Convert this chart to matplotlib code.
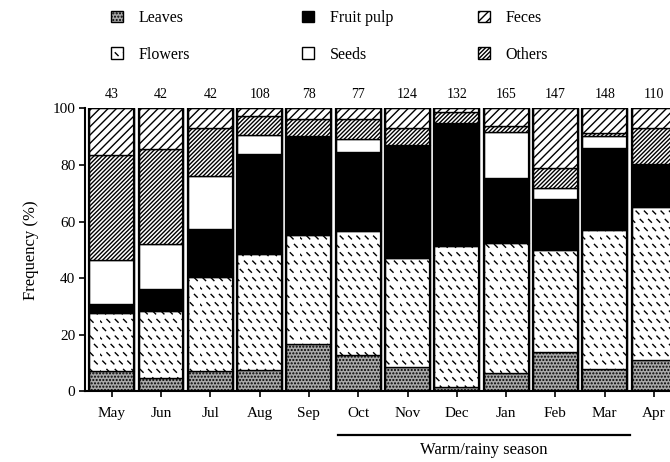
import matplotlib
matplotlib.use('Agg')
import matplotlib.pyplot as plt
import matplotlib.hatch as mhatch
from matplotlib.path import Path
from matplotlib.patches import Patch
import numpy as np

plt.rcParams['font.family'] = ['Liberation Serif', 'DejaVu Serif']
plt.rcParams['hatch.linewidth'] = 1.0

# datos (% por mes)
months = ['May', 'Jun', 'Jul', 'Aug', 'Sep', 'Oct', 'Nov', 'Dec', 'Jan', 'Feb', 'Mar', 'Apr']
n_samples = [43, 42, 42, 108, 78, 77, 124, 132, 165, 147, 148, 110]

leaves = [7.3, 4.9, 7.3, 7.6, 16.8, 12.9, 8.8, 1.5, 6.7, 14.1, 8.0, 11.2]
flowers = [20.3, 23.6, 33.1, 41.1, 38.3, 43.6, 38.5, 49.7, 45.7, 35.7, 49.1, 54.1]
fruit_pulp = [3.2, 7.6, 16.9, 35.2, 35.1, 27.9, 39.8, 43.5, 22.9, 18.2, 28.8, 14.9]
seeds = [15.6, 16.0, 18.9, 6.7, 0.0, 4.8, 0.0, 0.0, 16.5, 3.8, 4.3, 0.0]
others = [37.2, 33.7, 16.7, 6.8, 6.0, 7.0, 5.8, 4.1, 2.1, 7.0, 1.2, 12.7]
feces = [16.4, 14.2, 7.1, 2.6, 3.8, 3.8, 7.1, 1.2, 6.1, 21.2, 8.6, 7.1]


# trama de rayitas cortas para "Flowers" (reemplaza el patron '*')
class DashHatch(mhatch.HatchPatternBase):
    def __init__(self, hatch, density):
        self.n = int(hatch.count('*') * density)
        self.num_vertices = 2 * self.n * self.n

    def set_vertices_and_codes(self, vertices, codes):
        n = self.n
        d = 0.17 / n
        i, j = np.meshgrid(np.arange(n), np.arange(n))
        x = (((i + 0.5 + 0.5 * (j % 2)) / n) % 1.0).ravel()
        y = ((j + 0.5) / n).ravel()
        vertices[0::2, 0] = x - d
        vertices[0::2, 1] = y + d
        vertices[1::2, 0] = x + d
        vertices[1::2, 1] = y - d
        codes[0::2] = Path.MOVETO
        codes[1::2] = Path.LINETO


mhatch._hatch_types[mhatch._hatch_types.index(mhatch.Stars)] = DashHatch

# (nombre, valores, color de relleno, trama) de abajo hacia arriba
capas = [
    ('Leaves', leaves, '#a9a9a9', '.....'),
    ('Flowers', flowers, 'white', '**'),
    ('Fruit pulp', fruit_pulp, 'black', None),
    ('Seeds', seeds, 'white', None),
    ('Others', others, 'white', '////////'),
    ('Feces', feces, 'white', '////'),
]

fig = plt.figure(figsize=(6.7, 4.62), dpi=100)
ax = fig.add_axes([0.127, 0.1526, 0.886, 0.613])

x = np.arange(len(months))
ancho = 0.91
base = np.zeros(len(months))
estilos = {}
for nombre, vals, fc, h in capas:
    ax.bar(x, vals, ancho, bottom=base, color=fc, edgecolor='black',
           hatch=h, linewidth=1.0)
    base = base + np.array(vals)
    estilos[nombre] = (fc, h)

# contorno grueso de cada barra
ax.bar(x, base, ancho, fill=False, edgecolor='black', linewidth=1.6)

for xi, n in zip(x, n_samples):
    ax.text(xi, 105, str(n), ha='center', va='center', fontsize=10)

ax.set_xlim(-0.54, 11.5)
ax.set_ylim(0, 100)
ax.set_yticks([0, 20, 40, 60, 80, 100])
ax.set_xticks(x)
ax.set_xticklabels(months)
for lado in ['top', 'right']:
    ax.spines[lado].set_visible(False)
for lado in ['left', 'bottom']:
    ax.spines[lado].set_linewidth(1.5)
ax.tick_params(direction='out', length=4, width=1.2, labelsize=11, pad=3)
ax.tick_params(axis='x', pad=7.5)
ax.set_ylabel('Frequency (%)', fontsize=12)
ax.yaxis.set_label_coords(-0.077, 0.5)

# temporada calida/lluviosa
ini = months.index('Oct') - 0.41
fin = months.index('Mar') + 0.51
ax.plot([ini, fin], [-15.2, -15.2], color='black', linewidth=1.6, clip_on=False)
ax.text((ini + fin) / 2, -20.8, 'Warm/rainy season', ha='center', va='center',
        fontsize=12)

# leyenda en tres columnas
columnas = [(['Leaves', 'Flowers'], 0.151), (['Fruit pulp', 'Seeds'], 0.436),
            (['Feces', 'Others'], 0.699)]
for nombres, xpos in columnas:
    handles = [Patch(facecolor=estilos[nm][0], hatch=estilos[nm][1],
                     edgecolor='black', linewidth=1.0, label=nm) for nm in nombres]
    fig.legend(handles=handles, loc='upper left', bbox_to_anchor=(xpos, 0.999),
               frameon=False, fontsize=11.5, handlelength=0.75, handleheight=0.75,
               handletextpad=1.0, labelspacing=1.3, borderpad=0.1)

fig.savefig('out.png', dpi=100)
